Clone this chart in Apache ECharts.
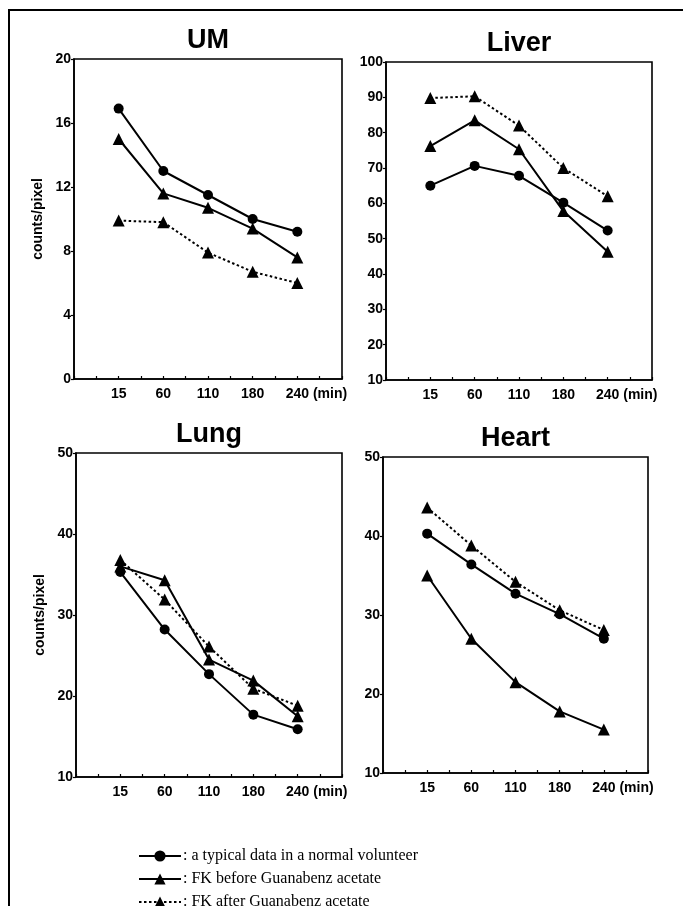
<!DOCTYPE html>
<html>
<head>
<meta charset="utf-8">
<script src="https://cdn.jsdelivr.net/npm/echarts@6/dist/echarts.min.js"></script>
<style>
    html, body { margin: 0; padding: 0; background: #fff; }
    #chart { width: 683px; height: 906px; }
</style>
</head>
<body>
<div id="chart"></div>
<script>
// sampling times, drawn at positions 1..5 on each x axis
var timeLabels = ['15', '60', '110', '180', '240'];
var xPos = [1, 2, 3, 4, 5];
var seriesNames = ['a typical data in a normal volunteer', 'FK before Guanabenz acetate', 'FK after Guanabenz acetate'];

var umNormal = [16.9, 13.0, 11.5, 10.0, 9.2];
var umBefore = [15.0, 11.6, 10.7, 9.4, 7.6];
var umAfter = [9.9, 9.8, 7.9, 6.7, 6.0];

var liverNormal = [65.0, 70.6, 67.8, 60.2, 52.3];
var liverBefore = [76.2, 83.5, 75.3, 57.8, 46.3];
var liverAfter = [89.8, 90.3, 82.0, 70.0, 62.0];

var lungNormal = [35.3, 28.2, 22.7, 17.7, 15.9];
var lungBefore = [36.0, 34.3, 24.5, 21.9, 17.5];
var lungAfter = [36.8, 31.9, 26.1, 20.9, 18.8];

var heartNormal = [40.3, 36.4, 32.7, 30.1, 27.0];
var heartBefore = [35.0, 27.0, 21.5, 17.8, 15.5];
var heartAfter = [43.6, 38.8, 34.2, 30.6, 28.1];

var panels = [
    {title: 'UM', left: 74, top: 59, width: 268, height: 320, min: 0, max: 20, interval: 4, yName: 'counts/pixel', data: [umNormal, umBefore, umAfter]},
    {title: 'Liver', left: 386, top: 62, width: 266, height: 318, min: 10, max: 100, interval: 10, yName: '', data: [liverNormal, liverBefore, liverAfter]},
    {title: 'Lung', left: 76, top: 453, width: 266, height: 324, min: 10, max: 50, interval: 10, yName: 'counts/pixel', data: [lungNormal, lungBefore, lungAfter]},
    {title: 'Heart', left: 383, top: 457, width: 265, height: 316, min: 10, max: 50, interval: 10, yName: '', data: [heartNormal, heartBefore, heartAfter]}
];

var boldFont = 'Liberation Sans, Arial, sans-serif';

function pairs(values) {
    var out = [];
    for (var i = 0; i < values.length; i++) {
        out.push([xPos[i], values[i]]);
    }
    return out;
}

function xLabel(v) {
    var idx = xPos.indexOf(v);
    if (idx < 0) return '';
    if (idx === xPos.length - 1) {
        // hidden copy on the left keeps "240" centred on its tick
        return '{h|(min) }{n|' + timeLabels[idx] + ' (min)}';
    }
    return '{n|' + timeLabels[idx] + '}';
}

var grids = [], xAxes = [], yAxes = [], titles = [], series = [];

for (var p = 0; p < panels.length; p++) {
    var pn = panels[p];
    grids.push({
        left: pn.left, top: pn.top, width: pn.width, height: pn.height,
        show: true, borderColor: '#000', borderWidth: 1.6, backgroundColor: 'transparent'
    });
    titles.push({
        text: pn.title,
        left: pn.left + pn.width / 2,
        top: pn.top - 32,
        textAlign: 'center',
        padding: 0,
        textStyle: {fontFamily: boldFont, fontWeight: 'bold', fontSize: 27, color: '#000'}
    });
    xAxes.push({
        gridIndex: p, type: 'value', min: 0, max: 6, interval: 0.5,
        splitLine: {show: false},
        axisLine: {lineStyle: {color: '#000', width: 1.6}},
        axisTick: {inside: true, length: 3, lineStyle: {color: '#000', width: 1.2}},
        axisLabel: {
            formatter: xLabel, margin: 8, showMinLabel: true, showMaxLabel: true,
            rich: {
                n: {fontFamily: boldFont, fontWeight: 'bold', fontSize: 14, color: '#000'},
                h: {fontFamily: boldFont, fontWeight: 'bold', fontSize: 14, color: 'rgba(0,0,0,0)'}
            }
        }
    });
    yAxes.push({
        gridIndex: p, type: 'value', min: pn.min, max: pn.max, interval: pn.interval,
        name: pn.yName, nameLocation: 'middle', nameGap: 29, nameRotate: 90,
        nameTextStyle: {fontFamily: boldFont, fontWeight: 'bold', fontSize: 14, color: '#000'},
        splitLine: {show: false},
        axisLine: {show: true, lineStyle: {color: '#000', width: 1.6}},
        axisTick: {show: true, length: 3, lineStyle: {color: '#000', width: 1.2}},
        axisLabel: {fontFamily: boldFont, fontWeight: 'bold', fontSize: 14, color: '#000', margin: 3}
    });
    for (var s = 0; s < 3; s++) {
        series.push({
            name: seriesNames[s],
            type: 'line',
            xAxisIndex: p, yAxisIndex: p,
            data: pairs(pn.data[s]),
            symbol: s === 0 ? 'circle' : 'triangle',
            symbolSize: s === 0 ? 10 : 12,
            itemStyle: {color: '#000'},
            lineStyle: {color: '#000', width: 2, type: s === 2 ? [2.5, 2.5] : 'solid'},
            animation: false
        });
    }
}

// one legend per row, stacked under the panels
var legends = [];
for (var k = 0; k < seriesNames.length; k++) {
    legends.push({
        data: [seriesNames[k]],
        left: 138, top: 848 + k * 23,
        itemWidth: 42, itemHeight: 14,
        padding: 0,
        formatter: ': {name}',
        textStyle: {fontFamily: 'Liberation Serif, serif', fontSize: 16, color: '#000', padding: [0, 0, 0, -3]},
        selectedMode: false
    });
}

var chart = echarts.init(document.getElementById('chart'));

var option = {
    backgroundColor: '#fff',
    animation: false,
    title: titles,
    grid: grids,
    xAxis: xAxes,
    yAxis: yAxes,
    legend: legends,
    graphic: [
        {
            type: 'rect',
            shape: {x: 9, y: 10, width: 720, height: 920},
            style: {fill: 'none', stroke: '#000', lineWidth: 2},
            silent: true
        }
    ],
    series: series
};

chart.setOption(option);
</script>
</body>
</html>
